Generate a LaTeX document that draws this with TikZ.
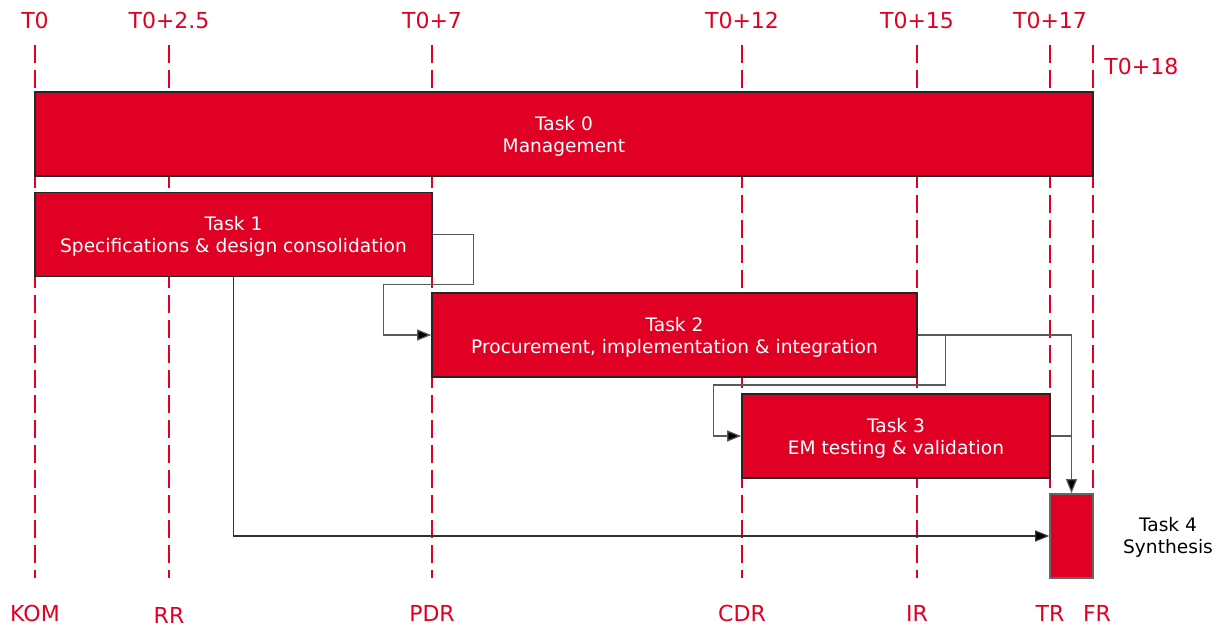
\documentclass[tikz,border=0pt]{standalone}
\usepackage{fontspec}
\setmainfont{DejaVu Sans}
\usepackage{tikz}
\usetikzlibrary{arrows.meta,positioning}
\definecolor{mred}{RGB}{224,0,36}

\begin{document}
\begin{tikzpicture}[x=0.5pt, y=-0.5pt,
        task/.style={rectangle, draw=black!85, line width=0.8pt, fill=mred,
            text=white, font=\fontsize{9.3}{11}\selectfont, align=center,
            inner sep=0pt, minimum height=42pt, text depth=-1pt},
        milestone/.style={mred, line width=1.1pt, dash pattern=on 9pt off 3.5pt},
        mlabel/.style={text=mred, font=\fontsize{11}{13}\selectfont, inner sep=0pt},
        link/.style={draw=black!65, line width=0.6pt, -{Triangle[length=7pt,width=5.5pt,fill=black]}}]
    \useasboundingbox (0,0) rectangle (1226,630);
    % milestones
    \foreach \x/\top/\bot/\by in {35/T0/KOM/613, 169/T0+2.5/RR/615, 432/T0+7/PDR/613,
            742/T0+12/CDR/613, 917/T0+15/IR/613, 1050/T0+17/TR/613} {
        \draw [milestone] (\x,45) -- (\x,578);
        \node [mlabel] at (\x,20) {\top};
        \node [mlabel] at (\x,\by) {\bot};
    }
    \draw [milestone] (1093,45) -- (1093,578);
    \node [mlabel, anchor=west] at (1104,66) {T0+18};
    \node [mlabel] at (1097,613) {FR};

    % tasks
    \node (t0) at (564,134) [task, minimum width=529pt] {Task 0\\Management};
    \node (t1) at (233.5,234.5) [task, minimum width=198.5pt] {Task 1\\Specifications \& design consolidation};
    \node (t2) at (674.5,335) [task, minimum width=242.5pt] {Task 2\\Procurement, implementation \& integration};
    \node (t3) at (896,436) [task, minimum width=154pt] {Task 3\\EM testing \& validation};
    \node (t4) at (1071.5,536) [task, draw=black!60, minimum width=21.5pt] {};
    \node (t4lbl) at (1168,537) [align=center, font=\fontsize{9.3}{11}\selectfont] {Task 4\\Synthesis};

    % dependencies
    \draw [link] (t1.east) -- ++(41,0) -- ++(0,50) -- ++(-90,0) |- (t2.west);
    \draw [link] (t2.east) -- ++(28,0) -- ++(0,50) -- ++(-232,0) |- (t3.west);
    \draw [link] (t2.east) -| (t4.north);
    \draw [draw=black!65, line width=0.6pt] (t3.east) -- (t4.north |- t3.east);
    \draw [link, draw=black!80] (t1.south) |- (t4.west);
\end{tikzpicture}
\end{document}
